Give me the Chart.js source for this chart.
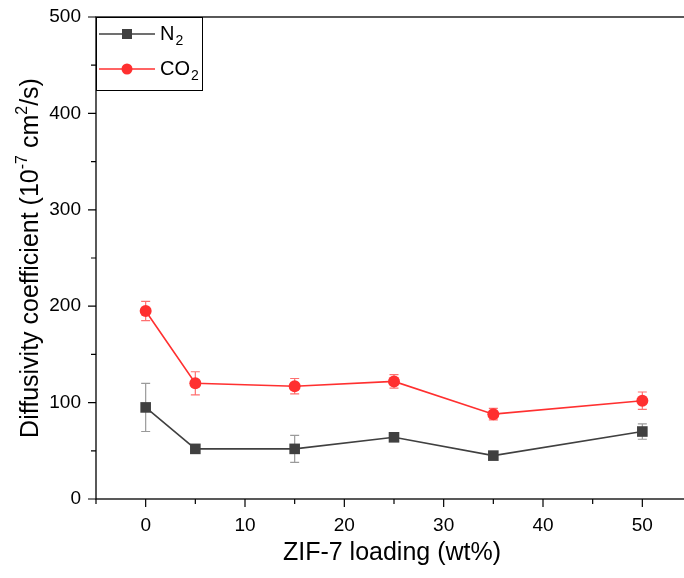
<!DOCTYPE html>
<html>
<head>
<meta charset="utf-8">
<script src="https://cdn.jsdelivr.net/npm/chart.js@4.4.0/dist/chart.umd.min.js"></script>
<style>
    html, body { margin: 0; padding: 0; background: #fff; overflow: hidden; }
    #wrap { width: 700px; height: 578px; }
</style>
</head>
<body>
<div id="wrap"><canvas id="diffChart" width="700" height="578"></canvas></div>
<script>
// Data
const loadings = [0, 5, 15, 25, 35, 50];
const n2Values = [95, 52, 52, 64, 45, 70];
const n2Errors = [25, 3, 14, 3, 2, 8];
const co2Values = [195, 120, 117, 122, 88, 102];
const co2Errors = [10, 12, 8, 7, 6, 9];
const xTicks = [0, 10, 20, 30, 40, 50];
const xMinorTicks = [-5, 5, 15, 25, 35, 45];
const yTicks = [0, 100, 200, 300, 400, 500];
const yMinorTicks = [50, 150, 250, 350, 450];

const FONT = "'Liberation Sans', Arial, sans-serif";
const N2_COLOR = '#404040';
const CO2_COLOR = '#ff3030';

// Frame, ticks, error bars, legend and axis titles
const decorPlugin = {
    id: 'decor',
    beforeDatasetsDraw(chart) {
        const ctx = chart.ctx;
        const xs = chart.scales.x, ys = chart.scales.y;
        const sets = [
            { vals: n2Values, errs: n2Errors, color: '#9a9a9a' },
            { vals: co2Values, errs: co2Errors, color: '#ff7070' }
        ];
        ctx.save();
        ctx.lineWidth = 1.2;
        sets.forEach(s => {
            ctx.strokeStyle = s.color;
            loadings.forEach((x, i) => {
                const px = xs.getPixelForValue(x);
                const top = ys.getPixelForValue(s.vals[i] + s.errs[i]);
                const bot = ys.getPixelForValue(s.vals[i] - s.errs[i]);
                ctx.beginPath();
                ctx.moveTo(px, top); ctx.lineTo(px, bot);
                ctx.moveTo(px - 4.5, top); ctx.lineTo(px + 4.5, top);
                ctx.moveTo(px - 4.5, bot); ctx.lineTo(px + 4.5, bot);
                ctx.stroke();
            });
        });
        ctx.restore();
    },
    afterDraw(chart) {
        const ctx = chart.ctx;
        const a = chart.chartArea;
        const xs = chart.scales.x, ys = chart.scales.y;
        ctx.save();

        // plot frame
        ctx.strokeStyle = '#000';
        ctx.lineWidth = 1.3;
        ctx.strokeRect(a.left, a.top, a.right - a.left, a.bottom - a.top);

        // ticks, outward
        ctx.lineWidth = 1.2;
        ctx.beginPath();
        xTicks.forEach(v => { const p = xs.getPixelForValue(v); ctx.moveTo(p, a.bottom); ctx.lineTo(p, a.bottom + 8); });
        xMinorTicks.forEach(v => { const p = xs.getPixelForValue(v); ctx.moveTo(p, a.bottom); ctx.lineTo(p, a.bottom + 5); });
        yTicks.forEach(v => { const p = ys.getPixelForValue(v); ctx.moveTo(a.left, p); ctx.lineTo(a.left - 8, p); });
        yMinorTicks.forEach(v => { const p = ys.getPixelForValue(v); ctx.moveTo(a.left, p); ctx.lineTo(a.left - 5, p); });
        ctx.stroke();

        // legend
        const lx = a.left, ly = a.top;
        ctx.lineWidth = 1;
        ctx.strokeRect(lx + 0.5, ly + 0.5, 106, 73);
        const items = [
            { name: 'N', color: N2_COLOR, style: 'rect', y: ly + 17 },
            { name: 'CO', color: CO2_COLOR, style: 'circle', y: ly + 52 }
        ];
        items.forEach(it => {
            ctx.strokeStyle = it.color;
            ctx.lineWidth = 1.5;
            ctx.beginPath();
            ctx.moveTo(lx + 3, it.y); ctx.lineTo(lx + 59, it.y);
            ctx.stroke();
            ctx.fillStyle = it.color;
            if (it.style === 'rect') {
                ctx.fillRect(lx + 31 - 5, it.y - 5, 10, 10);
            } else {
                ctx.beginPath();
                ctx.arc(lx + 31, it.y, 5.5, 0, Math.PI * 2);
                ctx.fill();
            }
            ctx.fillStyle = '#000';
            ctx.textBaseline = 'middle';
            ctx.textAlign = 'left';
            ctx.font = '20px ' + FONT;
            ctx.fillText(it.name, lx + 64, it.y);
            const w = ctx.measureText(it.name).width;
            ctx.font = '14px ' + FONT;
            ctx.fillText('2', lx + 64 + w + 1, it.y + 7);
        });

        // x title
        ctx.fillStyle = '#000';
        ctx.font = '25px ' + FONT;
        ctx.textAlign = 'center';
        ctx.textBaseline = 'alphabetic';
        ctx.fillText('ZIF-7 loading (wt%)', (a.left + a.right) / 2 - 2, 560);

        // y title with superscripts
        const parts = [
            { t: 'Diffusivity coefficient (10', sup: false },
            { t: '-7', sup: true },
            { t: ' cm', sup: false },
            { t: '2', sup: true },
            { t: '/s)', sup: false }
        ];
        const fontOf = p => (p.sup ? '16px ' : '25px ') + FONT;
        let total = 0;
        parts.forEach(p => { ctx.font = fontOf(p); p.w = ctx.measureText(p.t).width; total += p.w; });
        ctx.translate(38, (a.top + a.bottom) / 2);
        ctx.rotate(-Math.PI / 2);
        ctx.textAlign = 'left';
        let cx = -total / 2;
        parts.forEach(p => {
            ctx.font = fontOf(p);
            ctx.fillText(p.t, cx, p.sup ? -11 : 0);
            cx += p.w;
        });
        ctx.restore();
    }
};

function createDiffusivityChart() {
    const ctx = document.getElementById('diffChart');
    if (!ctx) return;

    new Chart(ctx, {
        type: 'line',
        data: {
            labels: loadings,
            datasets: [
                {
                    label: 'N2',
                    data: loadings.map((x, i) => ({ x: x, y: n2Values[i] })),
                    borderColor: N2_COLOR,
                    backgroundColor: N2_COLOR,
                    borderWidth: 1.6,
                    pointStyle: 'rect',
                    pointRadius: 7.5,
                    pointBorderWidth: 0,
                    tension: 0
                },
                {
                    label: 'CO2',
                    data: loadings.map((x, i) => ({ x: x, y: co2Values[i] })),
                    borderColor: CO2_COLOR,
                    backgroundColor: CO2_COLOR,
                    borderWidth: 1.6,
                    pointStyle: 'circle',
                    pointRadius: 6,
                    pointBorderWidth: 0,
                    tension: 0
                }
            ]
        },
        options: {
            responsive: false,
            animation: false,
            devicePixelRatio: 1,
            layout: {
                padding: { top: 17, right: 8, left: 0, bottom: 0 }
            },
            plugins: {
                legend: { display: false },
                tooltip: { enabled: false }
            },
            scales: {
                x: {
                    type: 'linear',
                    min: -5,
                    max: 55,
                    afterBuildTicks: function(scale) {
                        scale.ticks = xTicks.map(v => ({ value: v }));
                    },
                    afterFit: function(scale) {
                        scale.height = 79;
                        scale.paddingLeft = 0;
                        scale.paddingRight = 0;
                    },
                    grid: { display: false, drawTicks: false },
                    border: { display: false },
                    ticks: {
                        padding: 15,
                        color: '#000',
                        maxRotation: 0,
                        font: { family: FONT, size: 19 }
                    }
                },
                y: {
                    type: 'linear',
                    min: 0,
                    max: 500,
                    afterBuildTicks: function(scale) {
                        scale.ticks = yTicks.map(v => ({ value: v }));
                    },
                    afterFit: function(scale) {
                        scale.width = 96;
                        scale.paddingTop = 0;
                        scale.paddingBottom = 0;
                    },
                    grid: { display: false, drawTicks: false },
                    border: { display: false },
                    ticks: {
                        padding: 15,
                        color: '#000',
                        font: { family: FONT, size: 19 }
                    }
                }
            }
        },
        plugins: [decorPlugin]
    });
}

document.addEventListener('DOMContentLoaded', function() {
    createDiffusivityChart();
});
</script>
</body>
</html>
